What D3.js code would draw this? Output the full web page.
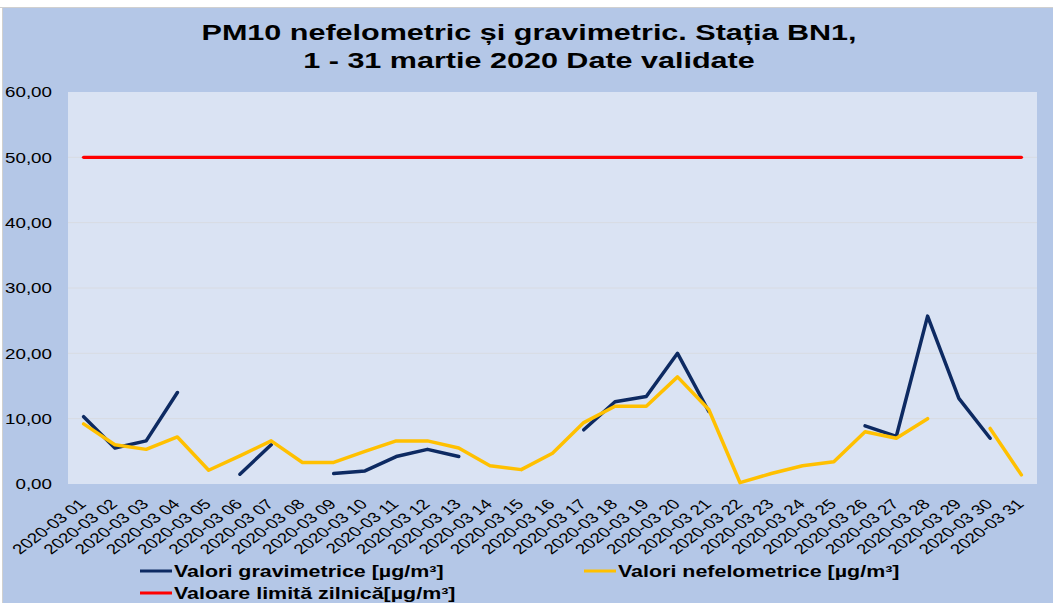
<!DOCTYPE html>
<html>
<head>
<meta charset="utf-8">
<script src="https://cdn.jsdelivr.net/npm/d3@7"></script>
<style>
  html, body { margin: 0; padding: 0; background: #ffffff; }
  svg { display: block; }
  text { font-family: "Liberation Sans", Arial, sans-serif; }
</style>
</head>
<body>
<svg id="chart" width="1053" height="603"></svg>
<script>
// ---- data ----
const days = ["2020-03 01","2020-03 02","2020-03 03","2020-03 04","2020-03 05","2020-03 06","2020-03 07","2020-03 08","2020-03 09","2020-03 10","2020-03 11","2020-03 12","2020-03 13","2020-03 14","2020-03 15","2020-03 16","2020-03 17","2020-03 18","2020-03 19","2020-03 20","2020-03 21","2020-03 22","2020-03 23","2020-03 24","2020-03 25","2020-03 26","2020-03 27","2020-03 28","2020-03 29","2020-03 30","2020-03 31"];
const gravimetric = [10.3, 5.5, 6.6, 14.0, null, 1.5, 6.0, null, 1.6, 2.0, 4.2, 5.3, 4.2, null, null, null, 8.3, 12.6, 13.4, 20.0, 11.1, null, null, null, null, 8.9, 7.3, 25.7, 13.1, 7.0, null];
const nefelometric = [9.2, 6.0, 5.3, 7.2, 2.1, 4.3, 6.6, 3.3, 3.3, 5.0, 6.6, 6.6, 5.5, 2.8, 2.2, 4.7, 9.4, 11.9, 11.9, 16.4, 11.4, 0.2, 1.6, 2.8, 3.4, 8.0, 7.0, 10.0, null, 8.5, 1.4];
const limitValue = days.map(() => 50);
const yTicks = [0, 10, 20, 30, 40, 50, 60];
const titleLines = ["PM10 nefelometric și gravimetric. Stația BN1,", "1 - 31 martie 2020 Date validate"];
const seriesNames = ["Valori gravimetrice [µg/m³]", "Valori nefelometrice [µg/m³]", "Valoare limită zilnică[µg/m³]"];

// ---- layout ----
const SX = 1.34; // horizontal stretch of text in the original picture
const plot = { left: 68, top: 92, right: 1037, bottom: 484 };
const colors = { grav: "#0d2a62", nef: "#ffc000", limit: "#ff0000" };

const svg = d3.select("#chart");

// chart background
svg.append("rect").attr("x", 3).attr("y", 8).attr("width", 1050).attr("height", 595)
  .attr("fill", "#b4c7e7");
svg.append("line").attr("x1", 0).attr("x2", 1053).attr("y1", 7.5).attr("y2", 7.5)
  .attr("stroke", "#d0d0d0").attr("stroke-width", 1);
svg.append("line").attr("x1", 2.5).attr("x2", 2.5).attr("y1", 8).attr("y2", 603)
  .attr("stroke", "#d0d0d0").attr("stroke-width", 1);

// plot area
svg.append("rect").attr("x", plot.left).attr("y", plot.top)
  .attr("width", plot.right - plot.left).attr("height", plot.bottom - plot.top)
  .attr("fill", "#dae3f3");

const x = d3.scalePoint().domain(days).range([plot.left, plot.right]).padding(0.5);
const y = d3.scaleLinear().domain([0, 60]).range([plot.bottom, plot.top]);

// gridlines
svg.append("g").selectAll("line").data(yTicks.filter(t => t > 0 && t < 60)).join("line")
  .attr("x1", plot.left).attr("x2", plot.right)
  .attr("y1", d => y(d)).attr("y2", d => y(d))
  .attr("stroke", "#d8dbe2").attr("stroke-width", 1);

// y axis
const yAxis = svg.append("g").attr("transform", `translate(${plot.left},0)`)
  .call(d3.axisLeft(y).tickValues(yTicks).tickSize(0).tickPadding(0)
    .tickFormat(d => d3.format(".2f")(d).replace(".", ",")));
yAxis.select(".domain").remove();
yAxis.selectAll("text")
  .attr("x", 0).attr("dy", "0.35em")
  .attr("transform", `translate(-16,0) scale(${SX},1)`)
  .attr("font-size", 14).attr("fill", "#000")
  .attr("font-family", "'Liberation Sans', Arial, sans-serif");

// x axis
const xAxis = svg.append("g").attr("transform", `translate(0,${plot.bottom})`)
  .call(d3.axisBottom(x).tickSize(0).tickPadding(0));
xAxis.select(".domain").remove();
xAxis.selectAll("text")
  .attr("x", 0).attr("y", 0).attr("dy", 0)
  .attr("text-anchor", "end")
  .attr("transform", `translate(3,21) scale(${SX},1) rotate(-45)`)
  .attr("font-size", 14).attr("fill", "#000")
  .attr("font-family", "'Liberation Sans', Arial, sans-serif");

// lines
const line = d3.line()
  .defined(d => d.v !== null)
  .x(d => x(d.day))
  .y(d => y(d.v));

function drawSeries(values, color, width) {
  const data = days.map((day, i) => ({ day, v: values[i] }));
  svg.append("path").datum(data)
    .attr("d", line)
    .attr("fill", "none")
    .attr("stroke", color)
    .attr("stroke-width", width)
    .attr("stroke-linejoin", "round")
    .attr("stroke-linecap", "round");
}
drawSeries(limitValue, colors.limit, 3.4);
drawSeries(gravimetric, colors.grav, 3.5);
drawSeries(nefelometric, colors.nef, 3.5);

// title
const title = svg.append("g");
titleLines.forEach((t, i) => {
  title.append("text")
    .attr("transform", `translate(529,${40 + i * 28}) scale(${SX},1)`)
    .attr("text-anchor", "middle")
    .attr("font-size", 22.8).attr("font-weight", "bold").attr("fill", "#000")
    .text(t);
});

// legend
const legendItems = [
  { name: seriesNames[0], color: colors.grav, x: 140, y: 571 },
  { name: seriesNames[1], color: colors.nef, x: 584, y: 571 },
  { name: seriesNames[2], color: colors.limit, x: 140, y: 593 }
];
const lg = svg.append("g").selectAll("g").data(legendItems).join("g")
  .attr("transform", d => `translate(${d.x},${d.y})`);
lg.append("line").attr("x1", 0).attr("x2", 32).attr("y1", 0).attr("y2", 0)
  .attr("stroke", d => d.color).attr("stroke-width", 3);
lg.append("text")
  .attr("transform", `translate(34,6) scale(${SX},1)`)
  .attr("font-size", 16).attr("font-weight", "bold").attr("fill", "#000")
  .text(d => d.name);
</script>
</body>
</html>
